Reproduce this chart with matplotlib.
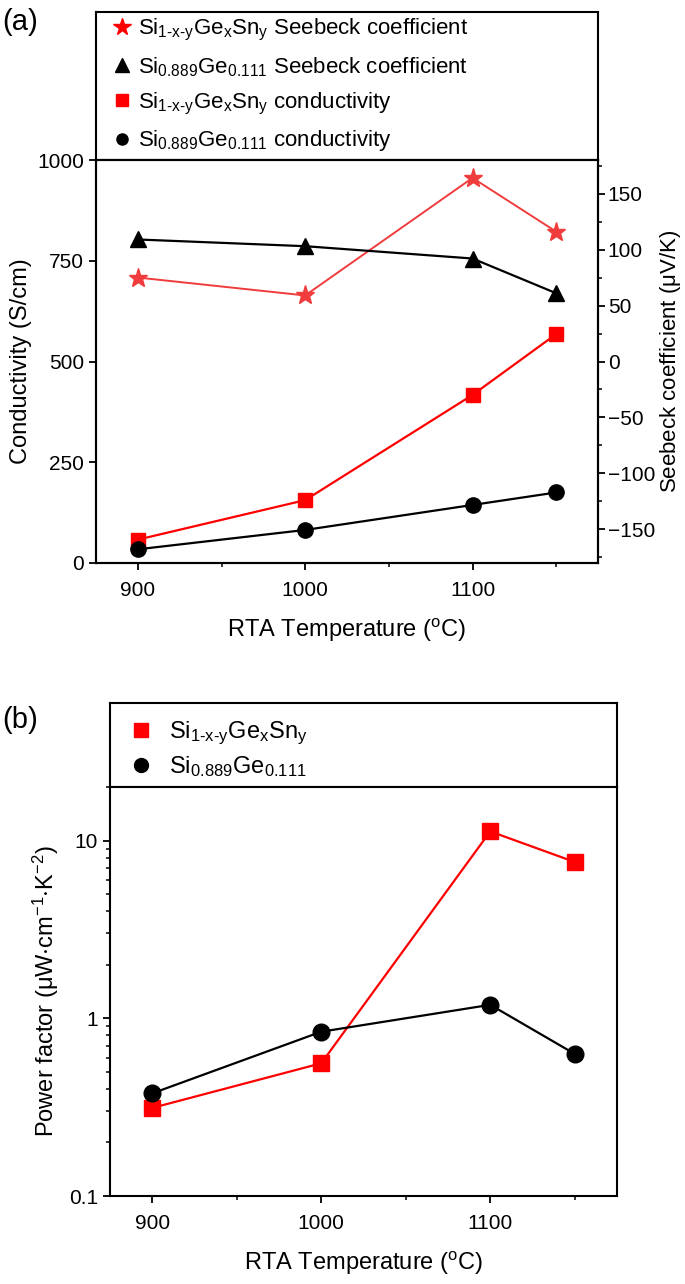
import matplotlib
matplotlib.use("Agg")
import matplotlib.pyplot as plt
from matplotlib.lines import Line2D
from matplotlib.ticker import MultipleLocator, FixedLocator, LogLocator, NullFormatter

plt.rcParams["font.family"] = ["Liberation Sans", "DejaVu Sans"]
plt.rcParams["mathtext.fontset"] = "custom"
plt.rcParams["mathtext.rm"] = "Liberation Sans"

RED = "#FF0000"
LIGHT_RED = "#F03C3C"
BLACK = "#000000"

temps = [900, 1000, 1100, 1150]

# panel (a)
cond_sigesn = [58, 156, 417, 568]
cond_sige = [34, 82, 144, 175]
seebeck_sigesn = [75, 59, 164, 116]
seebeck_sige = [109, 103, 92, 61]

# panel (b)
pf_sigesn = [0.313, 0.558, 11.25, 7.57]
pf_sige = [0.378, 0.84, 1.19, 0.63]

SIGESN = r"$\mathregular{Si_{1\text{-}x\text{-}y}Ge_xSn_y}$"
SIGE = r"$\mathregular{Si_{0.889}Ge_{0.111}}$"
XLABEL = r"RTA Temperature ($\mathregular{^o}$C)"

W, H = 685, 1284
fig = plt.figure(figsize=(W / 100, H / 100), dpi=100)


def frac(x0, y0, x1, y1):
    return [x0 / W, 1 - y1 / H, (x1 - x0) / W, (y1 - y0) / H]


def style_axis(ax):
    for s in ax.spines.values():
        s.set_linewidth(1.5)
    ax.tick_params(which="major", direction="out", length=5, width=1.3, labelsize=15)
    ax.tick_params(which="minor", direction="out", length=3, width=1.1)


# ---------- (a) ----------
leg_a = fig.add_axes(frac(96, 12, 598, 160))
ax1 = fig.add_axes(frac(96, 160, 598, 563))
ax2 = ax1.twinx()

ax1.plot(temps, cond_sigesn, color=RED, lw=1.6, marker="s", ms=10, zorder=3)
ax1.plot(temps, cond_sige, color=BLACK, lw=1.6, marker="o", ms=11, zorder=3)
ax2.plot(temps, seebeck_sigesn, color=LIGHT_RED, lw=1.4, marker="*", ms=14, zorder=3)
ax2.plot(temps, seebeck_sige, color=BLACK, lw=1.6, marker="^", ms=11, zorder=3)

ax1.set_xlim(875, 1175)
ax1.set_ylim(0, 1000)
ax1.set_yticks([0, 250, 500, 750, 1000])
ax1.xaxis.set_major_locator(FixedLocator([900, 1000, 1100]))
ax1.xaxis.set_minor_locator(FixedLocator([950, 1050, 1150]))
ax2.set_ylim(-180, 180)
ax2.set_yticks([-150, -100, -50, 0, 50, 100, 150])
ax2.yaxis.set_minor_locator(MultipleLocator(25))
ax1.set_ylabel("Conductivity (S/cm)", fontsize=17, labelpad=4)
ax2.set_ylabel(r"Seebeck coefficient ($\mathregular{\mu}$V/K)", fontsize=16, labelpad=2)
ax1.set_xlabel(XLABEL, fontsize=17, labelpad=12)
style_axis(ax1)
style_axis(ax2)
ax1.tick_params(axis="x", pad=8)
ax2.tick_params(axis="y", pad=2)

leg_a.set_xticks([])
leg_a.set_yticks([])
for s in leg_a.spines.values():
    s.set_linewidth(1.5)
handles_a = [
    Line2D([], [], ls="none", marker="*", ms=13, color=RED),
    Line2D([], [], ls="none", marker="^", ms=10, color=BLACK),
    Line2D([], [], ls="none", marker="s", ms=8, color=RED),
    Line2D([], [], ls="none", marker="o", ms=8, color=BLACK),
]
labels_a = [
    SIGESN + " Seebeck coefficient",
    SIGE + " Seebeck coefficient",
    SIGESN + " conductivity",
    SIGE + " conductivity",
]
leg_a.legend(handles_a, labels_a, loc="upper left", bbox_to_anchor=(0.0, 1.07),
             frameon=False, fontsize=16, handlelength=0.9, handletextpad=0.3,
             labelspacing=0.53, borderaxespad=0.3)

fig.text(2 / W, 1 - 22 / H, "(a)", fontsize=21, va="center", ha="left")

# ---------- (b) ----------
leg_b = fig.add_axes(frac(110, 703, 617, 787))
ax3 = fig.add_axes(frac(110, 787, 617, 1196))

ax3.plot(temps, pf_sigesn, color=RED, lw=1.6, marker="s", ms=11, zorder=3)
ax3.plot(temps, pf_sige, color=BLACK, lw=1.6, marker="o", ms=12, zorder=3)
ax3.set_yscale("log")
ax3.set_ylim(0.1, 20)
ax3.set_xlim(875, 1175)
ax3.xaxis.set_major_locator(FixedLocator([900, 1000, 1100]))
ax3.xaxis.set_minor_locator(FixedLocator([950, 1050, 1150]))
ax3.yaxis.set_major_locator(FixedLocator([0.1, 1, 10]))
ax3.set_yticklabels(["0.1", "1", "10"])
ax3.yaxis.set_minor_locator(LogLocator(base=10, subs=range(2, 10)))
ax3.yaxis.set_minor_formatter(NullFormatter())
ax3.set_ylabel(r"Power factor ($\mathregular{\mu W{\cdot}cm^{-1}{\cdot}K^{-2}}$)", fontsize=17, labelpad=6)
ax3.set_xlabel(XLABEL, fontsize=17, labelpad=12)
style_axis(ax3)
ax3.tick_params(axis="x", pad=8)

leg_b.set_xticks([])
leg_b.set_yticks([])
for s in leg_b.spines.values():
    s.set_linewidth(1.5)
handles_b = [
    Line2D([], [], ls="none", marker="s", ms=10, color=RED),
    Line2D([], [], ls="none", marker="o", ms=10, color=BLACK),
]
leg_b.legend(handles_b, [SIGESN, SIGE], loc="upper left", bbox_to_anchor=(0.0, 1.0),
             frameon=False, fontsize=17, handlelength=1.2, handletextpad=0.6,
             labelspacing=0.3, borderaxespad=0.3)

fig.text(2 / W, 1 - 720 / H, "(b)", fontsize=21, va="center", ha="left")

fig.savefig("out.png", dpi=100)
